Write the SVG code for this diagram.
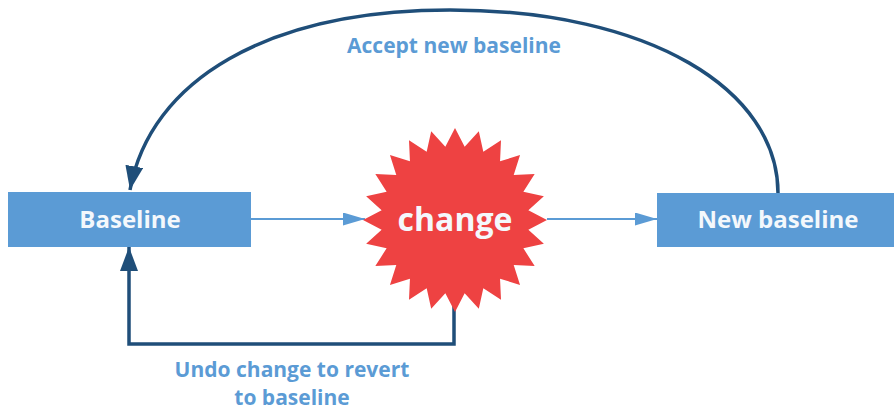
<svg xmlns="http://www.w3.org/2000/svg" width="894" height="411" viewBox="0 0 894 411">
<defs>
<style>
.box{fill:#5b9bd5;}
.btxt{font-family:"Open Sans","Liberation Sans",sans-serif;font-weight:bold;fill:#f4f8fc;text-anchor:middle;}
.lbl{font-family:"Open Sans","Liberation Sans",sans-serif;font-weight:bold;fill:#5b9bd5;text-anchor:middle;font-size:21px;}
.thin{fill:none;stroke:#5b9bd5;stroke-width:2;}
.thick{fill:none;stroke:#1f4e79;stroke-width:3.5;}
</style>
<marker id="ah-light" viewBox="0 0 22 13" refX="22" refY="6.5" markerWidth="22" markerHeight="13" markerUnits="userSpaceOnUse" orient="auto">
<path d="M0,0 L22,6.5 L0,13 Z" fill="#5b9bd5"/>
</marker>
<marker id="ah-dark" viewBox="0 0 24 18" refX="24" refY="9" markerWidth="24" markerHeight="18" markerUnits="userSpaceOnUse" orient="auto">
<path d="M0,0 L24,9 L0,18 Z" fill="#1f4e79"/>
</marker>
</defs>
<rect width="894" height="411" fill="#ffffff"/>
<g id="connectors">
<path class="thin" d="M251,219 L365,219" marker-end="url(#ah-light)"/>
<path class="thin" d="M547,219 L657,219" marker-end="url(#ah-light)"/>
<path class="thick" d="M778,193 C778,90 650,10 450,10 C268,10 150,80 130,190" marker-end="url(#ah-dark)"/>
<path class="thick" d="M454,306 L454,344 L129,344 L129,247" marker-end="url(#ah-dark)"/>
<text class="lbl" x="454" y="53">Accept new baseline</text>
<text class="lbl" x="292" y="377">Undo change to revert</text>
<text class="lbl" x="292" y="405">to baseline</text>
</g>
<g id="baseline">
<rect class="box" x="8" y="192" width="243" height="55"/>
<text class="btxt" x="130" y="228" font-size="24">Baseline</text>
</g>
<g id="change">
<polygon fill="#ee4242" points="455,128 464.66,146.64 478.81,131.14 483.32,151.63 501,140.33 500.05,161.29 520.05,154.95 513.71,174.95 534.67,174 523.37,191.68 543.86,196.19 528.36,210.34 547,220 528.36,229.66 543.86,243.81 523.37,248.32 534.67,266 513.71,265.05 520.05,285.05 500.05,278.71 501,299.67 483.32,288.37 478.81,308.86 464.66,293.36 455,312 445.34,293.36 431.19,308.86 426.68,288.37 409,299.67 409.95,278.71 389.95,285.05 396.29,265.05 375.33,266 386.63,248.32 366.14,243.81 381.64,229.66 363,220 381.64,210.34 366.14,196.19 386.63,191.68 375.33,174 396.29,174.95 389.95,154.95 409.95,161.29 409,140.33 426.68,151.63 431.19,131.14 445.34,146.64"/>
<text class="btxt" x="455" y="231" font-size="32" fill="#ffffff">change</text>
</g>
<g id="new-baseline">
<rect class="box" x="657" y="193" width="237" height="54"/>
<text class="btxt" x="778" y="228" font-size="24">New baseline</text>
</g>
</svg>
